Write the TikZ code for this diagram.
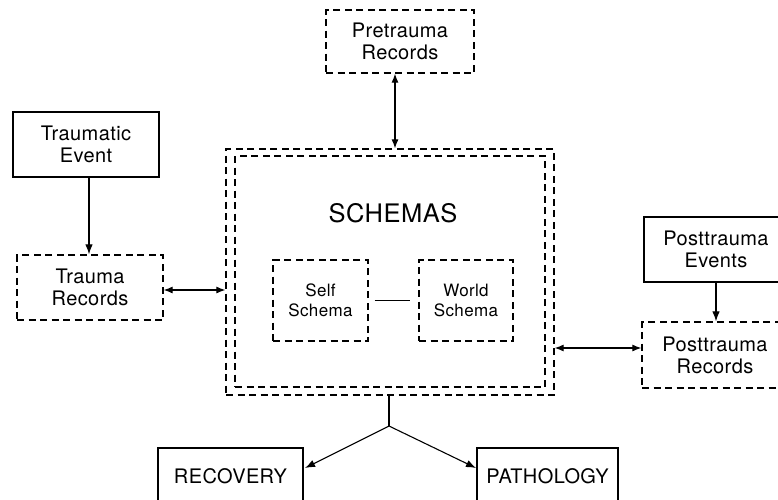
\documentclass[tikz,border=0pt]{standalone}
\usepackage{fontspec}
\setmainfont{TeX Gyre Heros}[LetterSpace=2]
\usetikzlibrary{arrows.meta,calc}
\tikzset{
  box/.style={draw, line width=1.4pt, inner sep=0pt, align=center,
    font=\fontsize{20}{22}\selectfont},
  dbox/.style={box, line width=1.3pt, dash pattern=on 7pt off 4.5pt},
  sbox/.style={dbox, font=\fontsize{17}{20}\selectfont},
  conn/.style={line width=1.1pt},
  tip/.style={-{Latex[length=10pt,width=7.5pt]}},
  tips/.style={{Latex[length=9pt,width=7pt]}-{Latex[length=9pt,width=7pt]}},
}
\begin{document}
\begin{tikzpicture}[x=1pt,y=-1pt]
\useasboundingbox (0,0) rectangle (778,499);

% record and event boxes
\node[dbox, minimum width=148pt, minimum height=63pt] (pre) at (400,41.5) {Pretrauma\\Records};
\node[box,  minimum width=146pt, minimum height=65pt] (te)  at (86,144.5) {Traumatic\\Event};
\node[dbox, minimum width=146pt, minimum height=65pt] (tr)  at (90,287.5) {Trauma\\Records};
\node[box,  minimum width=144pt, minimum height=65pt] (pe)  at (716,249.5) {Posttrauma\\Events};
\node[dbox, minimum width=146pt, minimum height=66pt] (pr)  at (715,355) {Posttrauma\\Records};

% schemas: double dashed frame
\node[dbox, minimum width=328pt, minimum height=246pt] (outer) at (390,272) {};
\node[dbox, minimum width=310pt, minimum height=231pt] (inner) at (390,271.5) {};
\node[font=\fontsize{25.5}{28}\selectfont] (title) at (393,213) {SCHEMAS};
\node[sbox, minimum width=95pt, minimum height=81pt] (self)  at (320.5,300.5) {Self\\Schema};
\node[sbox, minimum width=94pt, minimum height=81pt] (world) at (466,300.5) {World\\Schema};

% outcomes
\node[box, minimum width=145pt, minimum height=56pt] (rec)  at (230.5,476) {RECOVERY};
\node[box, minimum width=141pt, minimum height=56pt] (path) at (547.5,476) {PATHOLOGY};

% connectors
\draw[conn, tips] ([xshift=-5pt]pre.south) -- ([xshift=-5pt]pre.south |- outer.north);
\draw[conn, tip] ([xshift=3pt]te.south) -- ([xshift=3pt]te.south |- tr.north);
\draw[conn, tips] ([yshift=-2.5pt]tr.east) -- ([yshift=-2.5pt]tr.east -| outer.west);
\draw[conn, tips] ([yshift=7pt]pr.west) -- ([yshift=7pt]pr.west -| outer.east);
\draw[conn, tip] (pe.south) -- (pe.south |- pr.north);
\draw[conn, shorten <=6pt, shorten >=8pt] (self.east) -- (world.west);

\coordinate (fork) at (389,426);
\coordinate (recend) at (305,468);
\coordinate (pathend) at (476,468);
\draw[conn] (fork |- outer.south) -- (fork);
\draw[conn, tip] (fork) -- (recend);
\draw[conn, tip] (fork) -- (pathend);
\end{tikzpicture}
\end{document}
